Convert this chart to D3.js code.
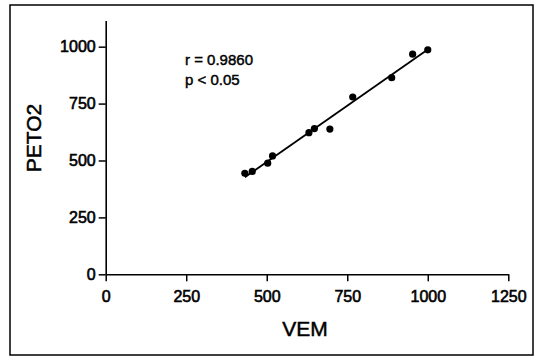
<!DOCTYPE html>
<html>
<head>
<meta charset="utf-8">
<script src="https://cdn.jsdelivr.net/npm/d3@7"></script>
<style>
  html, body { margin: 0; padding: 0; background: #fff; }
  svg { display: block; font-family: "Liberation Sans", Arial, sans-serif; }
</style>
</head>
<body>
<svg id="chart" width="541" height="357"></svg>
<script>
// Data
const vem   = [432, 455, 503, 518, 631, 648, 696, 767, 888, 953, 1000];
const peto2 = [444, 452, 488, 520, 622, 640, 638, 779, 864, 967, 986];
const xTicks = [0, 250, 500, 750, 1000, 1250];
const yTicks = [0, 250, 500, 750, 1000];
const statLines = ["r = 0.9860", "p < 0.05"];
const xTitle = "VEM";
const yTitle = "PETO2";

const svg = d3.select("#chart");

// frame
svg.append("rect")
  .attr("x", 10).attr("y", 5).attr("width", 523).attr("height", 350)
  .attr("fill", "none").attr("stroke", "#000").attr("stroke-width", 1.5);

const x = d3.scaleLinear().domain([0, 1250]).range([105.7, 508.3]);
const y = d3.scaleLinear().domain([0, 1115]).range([274.3, 20.5]);
const fmt = d3.format("d");

const xAxis = d3.axisBottom(x).tickValues(xTicks).tickFormat(fmt).tickSize(7).tickPadding(9.5).tickSizeOuter(0);
const yAxis = d3.axisLeft(y).tickValues(yTicks).tickFormat(fmt).tickSize(7).tickPadding(3).tickSizeOuter(0);

const gx = svg.append("g").attr("transform", `translate(0,${y(0)})`).call(xAxis);
const gy = svg.append("g").attr("transform", `translate(${x(0)},0)`).call(yAxis);

[gx, gy].forEach(g => {
  g.selectAll("path.domain").attr("stroke", "#000").attr("stroke-width", 1.6);
  g.selectAll(".tick line").attr("stroke", "#000").attr("stroke-width", 1.5);
  g.selectAll(".tick text")
    .attr("fill", "#000")
    .style("font-size", "16px")
    .style("font-family", "'Liberation Sans', Arial, sans-serif")
    .attr("stroke", "#000").attr("stroke-width", 0.6);
});

// regression line (least squares fit of the points)
const n = vem.length;
const mx = d3.mean(vem), my = d3.mean(peto2);
let sxy = 0, sxx = 0;
for (let i = 0; i < n; i++) { sxy += (vem[i]-mx)*(peto2[i]-my); sxx += (vem[i]-mx)**2; }
const slope = sxy / sxx, icpt = my - slope * mx;
const x0 = d3.min(vem), x1 = d3.max(vem);
svg.append("line")
  .attr("x1", x(x0)).attr("y1", y(icpt + slope*x0))
  .attr("x2", x(x1)).attr("y2", y(icpt + slope*x1))
  .attr("stroke", "#000").attr("stroke-width", 1.8);

// points
svg.append("g").selectAll("circle")
  .data(vem.map((v, i) => [v, peto2[i]]))
  .join("circle")
  .attr("cx", d => x(d[0])).attr("cy", d => y(d[1]))
  .attr("r", 3.6).attr("fill", "#000");

// stats text
svg.append("g").selectAll("text")
  .data(statLines)
  .join("text")
  .attr("x", 185).attr("y", (d, i) => 65 + i * 19.5)
  .style("font-size", "15px")
  .attr("fill", "#000").attr("stroke", "#000").attr("stroke-width", 0.45)
  .text(d => d);

// axis titles
svg.append("text")
  .attr("x", (x(0) + x(1250)) / 2 - 2).attr("y", 336)
  .attr("text-anchor", "middle")
  .style("font-size", "21px")
  .attr("fill", "#000").attr("stroke", "#000").attr("stroke-width", 0.5)
  .text(xTitle);

svg.append("text")
  .attr("transform", "translate(41,138) rotate(-90)")
  .attr("text-anchor", "middle")
  .style("font-size", "21px")
  .attr("fill", "#000").attr("stroke", "#000").attr("stroke-width", 0.5)
  .text(yTitle);
</script>
</body>
</html>
